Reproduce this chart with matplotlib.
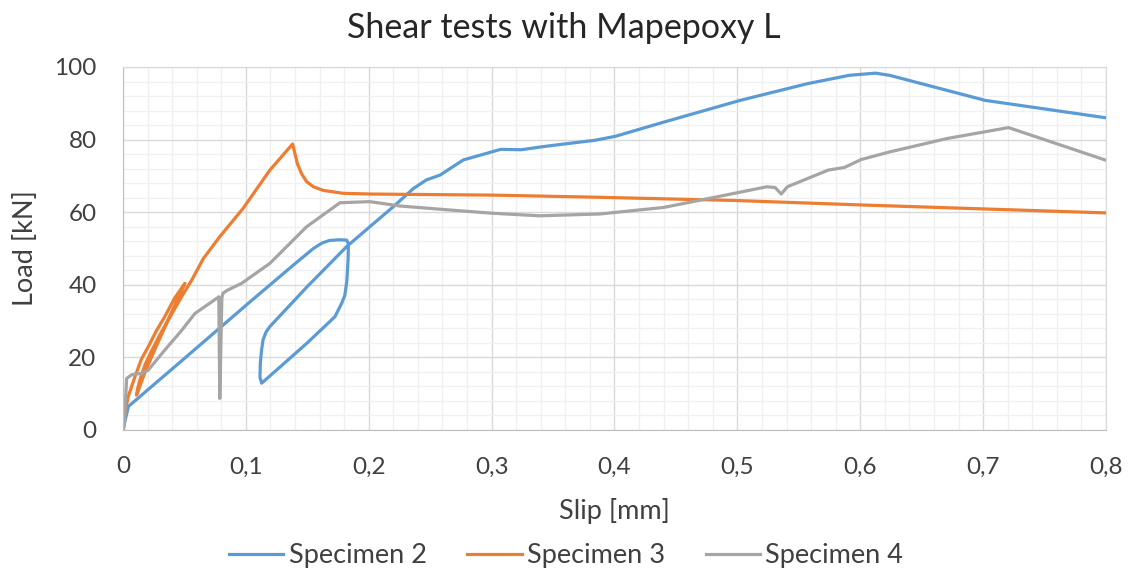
import numpy as np
import matplotlib
matplotlib.use("Agg")
import matplotlib.pyplot as plt
from matplotlib.ticker import MultipleLocator, FuncFormatter

# --------------------------------------------------------------
# Data (slip [mm], load [kN])
# --------------------------------------------------------------
# Specimen 2: first loading, unloading loop, reloading, then the rest
slip_s2 = [0.0, 0.002, 0.0045, 0.05, 0.1034, 0.14, 0.155, 0.162, 0.168, 0.176, 0.182,
           0.1835, 0.1832, 0.1822, 0.1805, 0.178, 0.1725, 0.15, 0.13, 0.1129,
           0.1115, 0.1118, 0.1128, 0.114, 0.1165, 0.1196, 0.15, 0.182, 0.193,
           0.22, 0.2363, 0.247, 0.258, 0.277, 0.2907, 0.3073, 0.324, 0.3407, 0.357, 0.384,
           0.4007, 0.441, 0.5023, 0.557, 0.591, 0.6123, 0.624, 0.7017, 0.8]
load_s2 = [0.0, 3.0, 6.5, 19.7, 35.3, 45.8, 50.0, 51.5, 52.2, 52.4, 52.3,
           51.3, 47.0, 41.0, 37.0, 34.9, 31.2, 24.0, 18.0, 12.9,
           14.5, 18.5, 22.0, 24.8, 27.0, 28.5, 39.5, 50.5, 53.7,
           61.5, 66.5, 68.9, 70.2, 74.4, 75.7, 77.3, 77.2, 78.0, 78.7, 79.8,
           80.9, 84.9, 90.8, 95.4, 97.7, 98.3, 97.7, 90.8, 86.0]

# Specimen 3: loading, one unload/reload cycle near 40 kN, peak, plateau
slip_s3 = [0.0, 0.0015, 0.0043, 0.0098, 0.015, 0.0206, 0.027, 0.034, 0.042, 0.0505,
           0.046, 0.04, 0.033, 0.026, 0.019, 0.0145, 0.012, 0.011,
           0.0118, 0.0138, 0.018, 0.023, 0.03, 0.0369, 0.0477, 0.056,
           0.0654, 0.0789, 0.0979, 0.1196, 0.1381, 0.1395, 0.142, 0.1455, 0.1495, 0.155,
           0.163, 0.179, 0.201, 0.301, 0.388, 0.5, 0.6, 0.7, 0.8]
load_s3 = [0.0, 4.6, 9.2, 14.7, 19.5, 22.9, 27.2, 31.2, 36.3, 40.4,
           37.2, 32.8, 27.5, 22.2, 16.8, 12.8, 10.3, 9.6,
           11.2, 13.8, 18.0, 21.6, 26.2, 30.3, 36.7, 41.3,
           47.2, 53.3, 61.1, 71.6, 78.8, 76.8, 73.3, 70.5, 68.4, 67.0,
           66.0, 65.2, 65.0, 64.7, 64.1, 63.2, 62.0, 60.9, 59.8]

# Specimen 4
slip_s4 = [0.0, 0.001, 0.003, 0.007, 0.015, 0.0206, 0.034, 0.0477, 0.0586, 0.0667, 0.0774, 0.078,
           0.0788, 0.0805, 0.0815, 0.085, 0.0966, 0.1196, 0.1495, 0.1766, 0.201, 0.2254,
           0.266, 0.301, 0.339, 0.388, 0.44, 0.477, 0.524, 0.5307, 0.5357, 0.5407,
           0.574, 0.587, 0.6007, 0.624, 0.6707, 0.7207, 0.8]
load_s4 = [0.0, 0.9, 14.2, 15.2, 15.6, 16.5, 22.0, 27.4, 32.1, 34.0, 36.5, 36.7,
           8.7, 36.5, 37.7, 38.5, 40.4, 45.9, 56.0, 62.6, 62.9, 61.7,
           60.6, 59.7, 59.0, 59.5, 61.3, 63.8, 67.0, 66.8, 65.0, 67.0,
           71.6, 72.3, 74.5, 76.6, 80.3, 83.3, 74.3]

labels = ["Specimen 2", "Specimen 3", "Specimen 4"]
colors = ["#5B9BD5", "#ED7D31", "#A5A5A5"]

plt.rcParams['font.family'] = ['Lato', 'DejaVu Sans']
text_col = "#404040"

fig = plt.figure(figsize=(11.28, 5.72), dpi=100)
ax = fig.add_axes([0.109, 0.2483, 0.8715, 0.6346])

for xs, ys, lab, c in zip([slip_s2, slip_s3, slip_s4], [load_s2, load_s3, load_s4], labels, colors):
    ax.plot(xs, ys, color=c, lw=2.3, label=lab, solid_joinstyle="round")

ax.set_xlim(0, 0.8)
ax.set_ylim(0, 100)
ax.xaxis.set_major_locator(MultipleLocator(0.1))
ax.xaxis.set_minor_locator(MultipleLocator(0.02))
ax.yaxis.set_major_locator(MultipleLocator(20))
ax.yaxis.set_minor_locator(MultipleLocator(4))
ax.xaxis.set_major_formatter(FuncFormatter(lambda v, p: "0" if abs(v) < 1e-9 else f"{v:.1f}".replace(".", ",")))

ax.grid(which="minor", color="#F0F0F0", lw=1.0)
ax.grid(which="major", color="#D9D9D9", lw=1.0)
ax.set_axisbelow(True)
for s in ax.spines.values():
    s.set_color("#D9D9D9")
ax.spines["left"].set_color("#BFBFBF")
ax.spines["bottom"].set_color("#BFBFBF")
ax.tick_params(which="both", length=0, labelsize=17.5, colors=text_col)
ax.tick_params(axis="y", pad=19)
ax.tick_params(axis="x", pad=19)

ax.set_xlabel("Slip [mm]", fontsize=19.5, color=text_col, labelpad=15)
ax.set_ylabel("Load [kN]", fontsize=19.5, color=text_col, labelpad=12)
fig.text(0.5, 1 - 28 / 572, "Shear tests with Mapepoxy L", fontsize=24.5, color="#262626",
         ha="center", va="center")

fig.legend(loc="center", ncol=3, frameon=False, fontsize=19.5, bbox_to_anchor=(0.502, 1 - 556 / 572),
           handlelength=2.0, columnspacing=1.5, handletextpad=0.2, labelcolor=text_col)

fig.savefig("out.png", dpi=100)
